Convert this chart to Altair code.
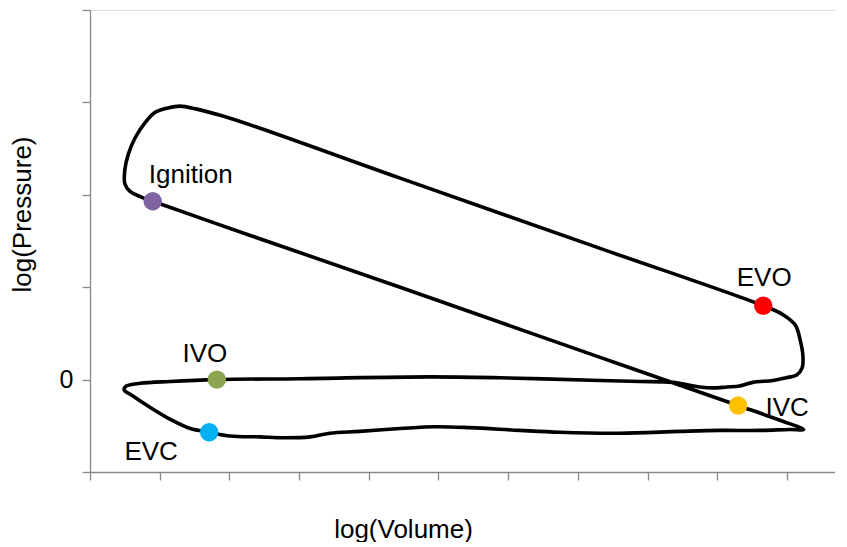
import altair as alt
import pandas as pd

# Cycle path (log volume, log pressure), in drawing order
path_x = [0.90, 0.72, 0.57, 0.50, 0.50, 0.55, 0.65, 0.78, 0.93, 1.12, 1.29, 1.52, 1.87, 2.44,
          4.45, 7.32, 9.66, 9.95, 10.12, 10.19, 10.23, 10.22, 10.14, 9.99, 9.80, 9.51, 9.32, 9.14,
          8.94, 8.75, 8.36, 7.89, 7.32, 5.88, 4.88, 3.01, 1.82, 1.15, 0.72, 0.52, 0.49, 0.60, 0.86,
          1.15, 1.44, 1.71, 2.01, 2.44, 2.77, 3.16, 3.44, 3.87, 4.45, 4.95, 5.45, 6.17, 6.74,
          7.60, 8.47, 9.04, 9.61, 10.04, 10.24, 9.90, 9.30, 7.32, 4.45, 2.30, 0.90]
path_y = [1.93, 1.98, 2.04, 2.12, 2.27, 2.44, 2.62, 2.77, 2.89, 2.94, 2.96, 2.93, 2.86, 2.72,
          2.18, 1.42, 0.80, 0.70, 0.59, 0.43, 0.25, 0.13, 0.05, 0.02, -0.01, -0.03, -0.07, -0.08,
          -0.09, -0.08, -0.03, -0.02, -0.01, 0.02, 0.03, 0.01, 0.00, -0.02, -0.04, -0.07, -0.11, -0.17, -0.30,
          -0.43, -0.53, -0.57, -0.61, -0.62, -0.63, -0.62, -0.58, -0.56, -0.53, -0.51, -0.52, -0.55, -0.57,
          -0.58, -0.56, -0.55, -0.55, -0.54, -0.54, -0.44, -0.28, 0.24, 1.00, 1.56, 1.93]

# Event points
events = ["Ignition", "EVO", "IVO", "IVC", "EVC"]
event_x = [0.90, 9.66, 1.82, 9.30, 1.71]
event_y = [1.93, 0.80, 0.00, -0.28, -0.57]
event_colors = ["#8064A2", "#FF0000", "#8BA552", "#FFC000", "#00B0F0"]
# label offsets (pixels) relative to each point
label_dx = [38, 1, -12, 49, -58]
label_dy = [-26, -28, -26, 3, 20]

path_df = pd.DataFrame({"x": path_x, "y": path_y, "order": list(range(len(path_x)))})
ev_df = pd.DataFrame({"x": event_x, "y": event_y, "event": events, "color": event_colors})

FONT = "Liberation Sans"
FS = 26

xscale = alt.Scale(domain=[0, 10.69], nice=False, zero=False)
yscale = alt.Scale(domain=[-1, 4], nice=False, zero=False)

xaxis = alt.Axis(values=list(range(11)), labels=False, grid=False, title="log(Volume)",
                 domainColor="#888888", tickColor="#888888", domainWidth=1.3, tickWidth=1.3,
                 tickSize=8, titleFont=FONT, titleFontSize=FS, titleFontWeight="normal",
                 titleColor="black", titleX=313, titleY=57, titleBaseline="middle",
                 titleAlign="center")
yaxis = alt.Axis(values=[-1, 0, 1, 2, 3, 4], labelExpr="datum.value == 0 ? '0' : ''",
                 grid=False, title="log(Pressure)", domainColor="#888888",
                 tickColor="#888888", domainWidth=1.3, tickWidth=1.3, tickSize=8,
                 labelFont=FONT, labelFontSize=25, labelColor="black", labelPadding=9,
                 titleFont=FONT, titleFontSize=FS, titleFontWeight="normal",
                 titleColor="black", titleX=-68, titleY=204, titleBaseline="middle",
                 titleAlign="center", titleAngle=270)

line = alt.Chart(path_df).mark_line(color="black", strokeWidth=3.6,
                                    interpolate="catmull-rom", strokeJoin="round").encode(
    x=alt.X("x:Q", scale=xscale, axis=xaxis),
    y=alt.Y("y:Q", scale=yscale, axis=yaxis),
    order="order:Q",
)

pts = alt.Chart(ev_df).mark_circle(size=340, opacity=1).encode(
    x=alt.X("x:Q", scale=xscale),
    y=alt.Y("y:Q", scale=yscale),
    color=alt.Color("color:N", scale=None),
)

layers = [line, pts]
for i, name in enumerate(events):
    sub = ev_df[ev_df["event"] == name]
    layers.append(
        alt.Chart(sub).mark_text(font=FONT, fontSize=FS, color="black",
                                 dx=label_dx[i], dy=label_dy[i],
                                 align="center", baseline="middle").encode(
            x=alt.X("x:Q", scale=xscale),
            y=alt.Y("y:Q", scale=yscale),
            text="event:N",
        )
    )

chart = alt.layer(*layers).properties(
    width=745, height=462,
    autosize=alt.AutoSizeParams(type="none"),
    padding={"left": 82, "top": 2, "right": 0, "bottom": 70},
).configure_view(stroke=None).configure(background="white")

chart.save("out.html", embed_options={"renderer": "svg", "actions": False})
